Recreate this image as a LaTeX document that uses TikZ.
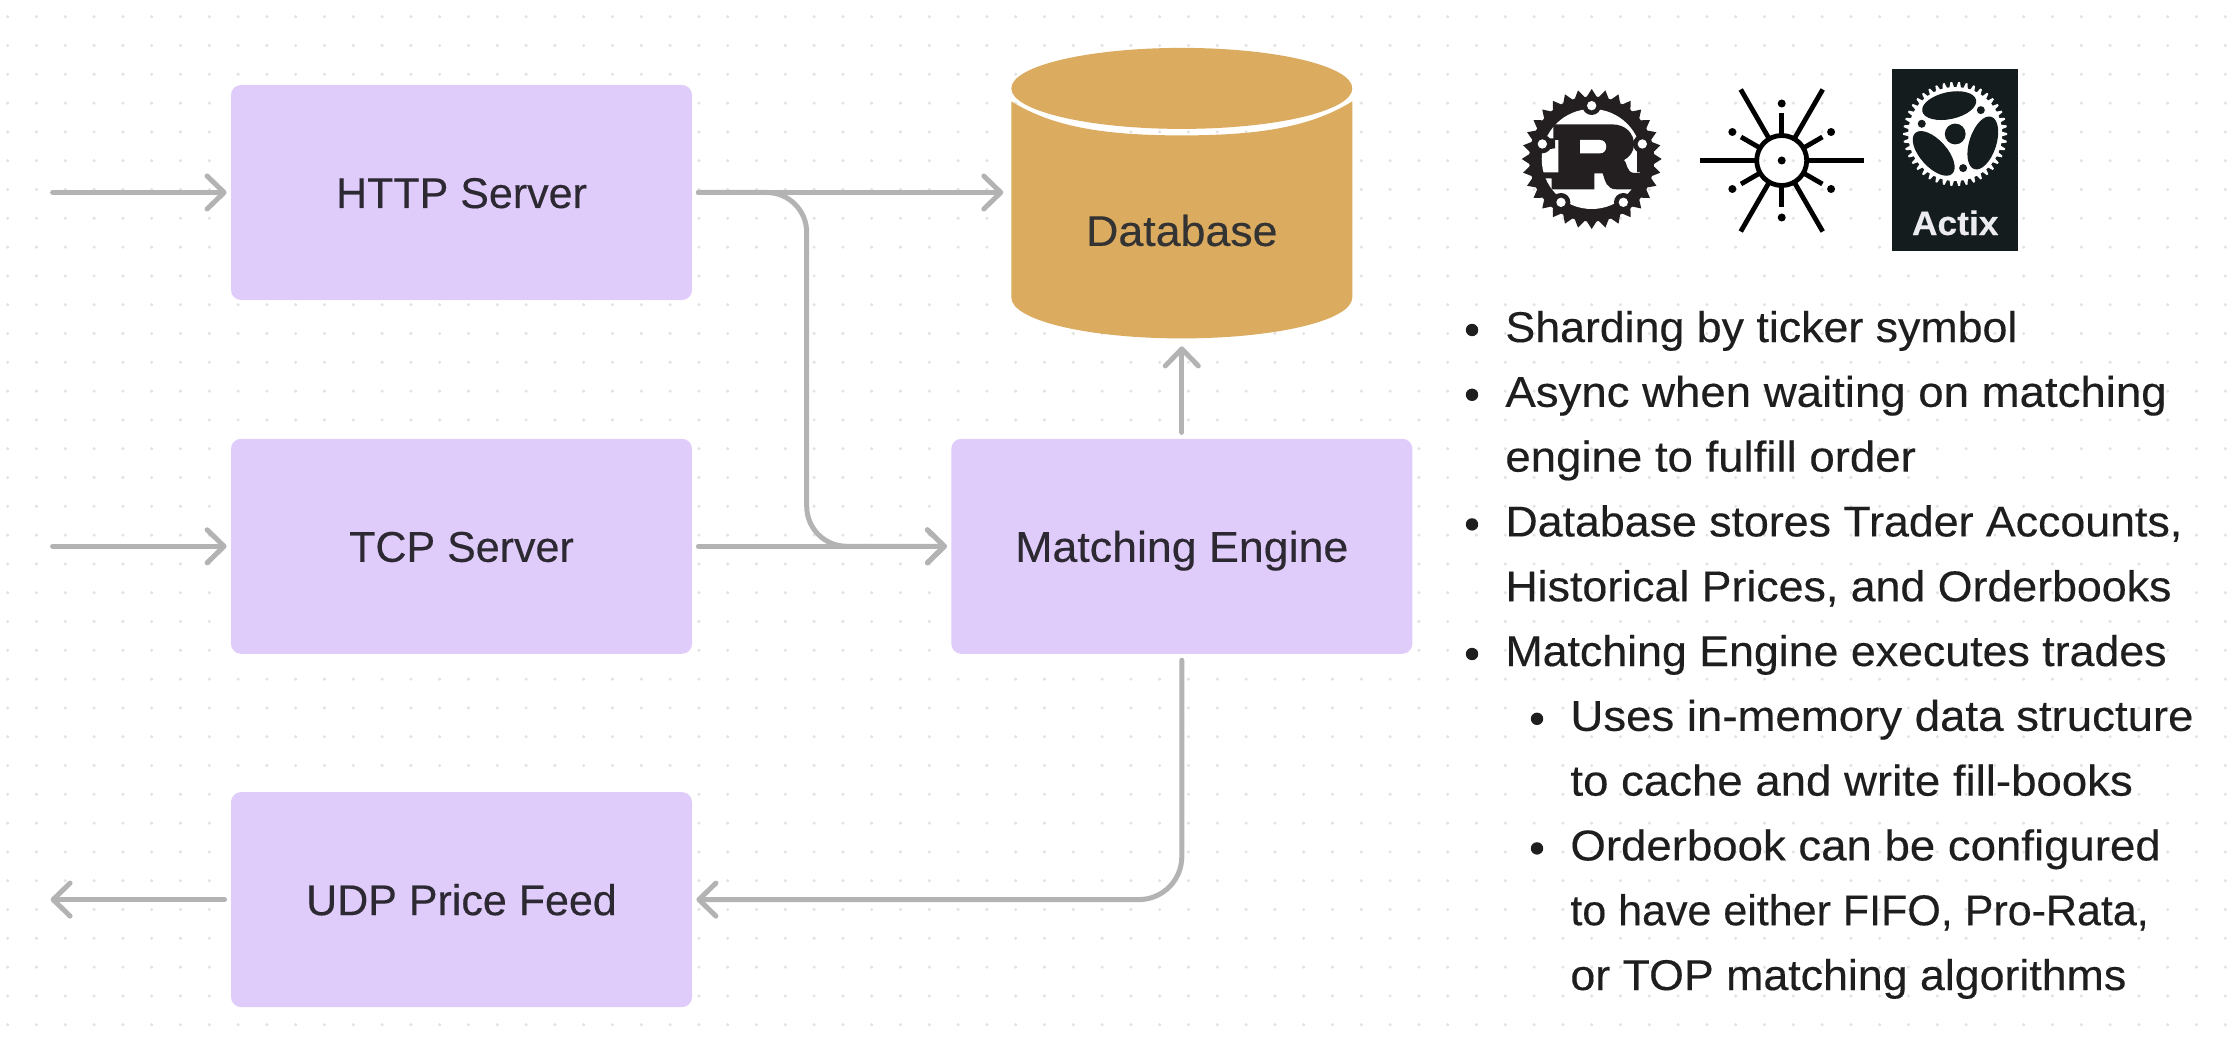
\documentclass[tikz,border=0pt]{standalone}
\usepackage{fontspec}
\setmainfont[Ligatures=NoCommon,FakeStretch=1.04,FakeBold=0.3]{Liberation Sans}
\newfontfamily\capsfam[Ligatures=NoCommon,FakeStretch=1.0,FakeBold=0.3]{Liberation Sans}
\newfontfamily\widefam[Ligatures=NoCommon,FakeStretch=1.06,FakeBold=0.3]{Liberation Sans}
\usepackage{tikz}
\usetikzlibrary{positioning,calc,arrows.meta}
\definecolor{griddot}{HTML}{E2E2E2}
\definecolor{boxpurple}{HTML}{E0CCFA}
\definecolor{boxink}{HTML}{2D2933}
\definecolor{dbgold}{HTML}{DBAB60}
\definecolor{dbink}{HTML}{333333}
\definecolor{linegray}{HTML}{B3B3B3}
\definecolor{listink}{HTML}{1E1E1E}
\definecolor{rustblack}{HTML}{231F20}
\definecolor{actixbg}{HTML}{141C1E}
\definecolor{actixink}{HTML}{ECECF0}
\newcommand\bodyfnt{\fontsize{21.5}{26}\selectfont}
\tikzset{
  box/.style={rectangle, rounded corners=5pt, fill=boxpurple, text=boxink, font=\bodyfnt,
    minimum width=230.5pt, minimum height=107.5pt, inner sep=0pt, text height=15.5pt, text depth=0pt},
  capsbox/.style={box, font=\capsfam\bodyfnt},
  dbshape/.style={rectangle, minimum width=170.5pt, minimum height=145pt, inner sep=0pt, outer sep=2pt},
  link/.style={draw=linegray, line width=2.5pt, line cap=round, shorten >=2pt, shorten <=3pt,
    -{Straight Barb[length=8.5pt, width=16.5pt, round]}},
  listline/.style={anchor=base west, inner sep=0pt, text=listink, font=\bodyfnt},
  wideline/.style={listline, font=\widefam\bodyfnt},
  capsline/.style={listline, font=\capsfam\bodyfnt},
  listdot/.style={circle, fill=listink, inner sep=0pt, minimum size=6.2pt},
}
\begin{document}
\begin{tikzpicture}[x=.5pt,y=-.5pt]
     \useasboundingbox (0,0) rectangle (2230,1048);
     \fill[white] (0,0) rectangle (2230,1048);

    %% dot grid
     \foreach \i in {0,...,77}
       \foreach \j in {0,...,35}
         \fill[griddot] (7.7+28.8*\i,16.7+28.8*\j) circle (1.7);

    %% boxes
     \node (http) [capsbox] at (461.5,192.5) {HTTP Server};
     \node (tcp) [capsbox, below=69pt of http] {TCP Server};
     \node (udp) [capsbox, below=68.75pt of tcp] {UDP Price Feed};
     \node (match) [box, right=129.25pt of tcp] {Matching Engine};
     \node (db) [dbshape, above=48pt of match] {};

    %% cylinder of the database
     \begin{scope}[shift={(db.center)}]
       \fill[dbgold] (-170.5,-92) .. controls (-130,-67) and (-80,-58) .. (0,-58)
          .. controls (80,-58) and (130,-67) .. (170.5,-92) -- (170.5,104)
          .. controls (170.5,127) and (94,145) .. (0,145)
          .. controls (-94,145) and (-170.5,127) .. (-170.5,104) -- cycle;
       \fill[dbgold] (0,-105) ellipse [x radius=170.5, y radius=40.5];
     \end{scope}
     \node (dbname) [box, fill=none, text=dbink, minimum width=0pt, minimum height=0pt] at ($(db.center)+(0,37)$) {Database};

    %% free ends
     \coordinate [left=92pt of http] (httpin);
     \coordinate [left=92pt of tcp] (tcpin);
     \coordinate [left=92pt of udp] (udpout);
     \coordinate (bend) at (806.7,400);

    %% connectors
     \draw[link] (httpin) -- (http);
     \draw[link] (tcpin) -- (tcp);
     \draw[link] (udp) -- (udpout);
     \draw[link] (http.east) -- (http.east -| db.west);
     \draw[link] (tcp) -- (match);
     \draw[link] (match) -- (db);
     \draw[link, rounded corners=20pt] (http.east) -- (http.east -| bend) -- (match.west -| bend) -- (match.west);
     \draw[link, rounded corners=21.5pt] (match.south) -- (match.south |- udp.east) -- (udp.east);

    %% rust logo
     \coordinate (rust) at (1591.7,159);
     \begin{scope}[shift={(rust)}]
       \fill[rustblack] (0,0) circle (62.5);
       \foreach \a in {0,11.25,...,349}
         \fill[rustblack] (\a-5.6:61) -- (\a:70) -- (\a+5.6:61) -- cycle;
       \fill[white] (0,0) circle (50);
       \begin{scope}[shift={(-81.7,-74)},scale=.3333]
         \fill[rustblack] (130,118) -- (305,118) .. controls (350,118) and (372,148) .. (372,178)
            .. controls (372,200) and (358,217) .. (342,225) .. controls (352,232) and (348,262) .. (372,264)
            -- (398,262) -- (368,313) -- (320,313) .. controls (290,313) and (286,290) .. (278,265)
            -- (253,265) -- (253,313) -- (125,313) -- (125,280) -- (95,280) -- (95,262) -- (145,262)
            -- (145,165) -- (130,165) -- cycle;
         \fill[rustblack] (382,195) -- (412,195) -- (412,262) -- (382,262) -- cycle;
         \fill[rustblack] (97,160) -- (135,160) -- (135,190) -- (97,195) -- cycle;
         \foreach \hx/\hy in {245/62,397/177,340/352,153/352,97/177}
           \fill[rustblack] (\hx,\hy) circle (28);
         \foreach \hx/\hy in {245/62,397/177,340/352,153/352,97/177}
           \fill[white] (\hx,\hy) circle (14);
         \fill[white] (210,165) -- (270,165) .. controls (295,165) and (295,205) .. (270,205) -- (210,205) -- cycle;
       \end{scope}
     \end{scope}

    %% sun logo
     \coordinate [right=95pt of rust, yshift=-.75pt] (sun);
     \begin{scope}[shift={(sun)}, line width=2.4pt]
       \foreach \a in {0,60,...,300}
         \draw (\a:25) -- (\a:82);
       \foreach \a in {30,90,...,330} {
         \draw (\a:25) -- (\a:47);
         \fill (\a:57) circle (4);
       }
       \draw (0,0) circle (25);
       \fill (0,0) circle (4);
     \end{scope}

    %% actix logo
     \coordinate [right=86.75pt of sun, yshift=13.25pt] (actix);
     \begin{scope}[shift={(actix)}]
       \fill[actixbg] (-63.5,-65) rectangle (62.5,117);
       \fill[white] (0,0) circle (47);
       \foreach \a in {0,8.571,...,359}
         \fill[white] (\a-3:46) -- (\a-1:52) -- (\a+1:52) -- (\a+3:46) -- cycle;
       \fill[actixbg] (0,0) circle (10.4);
       \begin{scope}[y=.5pt]
         \foreach \a in {102,222,342} {
           \fill[actixbg, shift={(\a:29)}, rotate=\a-90] (0,0) ellipse [x radius=27.5, y radius=13.5];
           \fill[actixbg] (\a-59:35) circle (4);
         }
       \end{scope}
     \end{scope}
     \node (actixname) [anchor=base, inner sep=0pt, text=actixink, font=\fontsize{17}{20}\selectfont\bfseries] at ($(actix)+(0,101)$) {Actix};

    %% list
     \node (l1) [listline] at (1505,342) {Sharding by ticker symbol};
     \node (l2) [below=32.4pt of l1.base west, wideline] {Async when waiting on matching};
     \node (l3) [below=32.4pt of l2.base west, wideline] {engine to fulfill order};
     \node (l4) [below=32.4pt of l3.base west, listline] {Database stores Trader Accounts,};
     \node (l5) [below=32.4pt of l4.base west, listline] {Historical Prices, and Orderbooks};
     \node (l6) [below=32.4pt of l5.base west, listline] {Matching Engine executes trades};
     \node (l7) [below=32.4pt of l6.base west, xshift=32.5pt, wideline] {Uses in-memory data structure};
     \node (l8) [below=32.4pt of l7.base west, wideline] {to cache and write fill-books};
     \node (l9) [below=32.4pt of l8.base west, wideline] {Orderbook can be configured};
     \node (l10) [below=32.4pt of l9.base west, capsline] {to have either FIFO, Pro-Rata,};
     \node (l11) [below=32.4pt of l10.base west, listline] {or TOP matching algorithms};

     \node (d1) [listdot] at ($(l1.base west)+(-33,-12)$) {};
     \node (d2) [listdot] at ($(l2.base west)+(-33,-12)$) {};
     \node (d4) [listdot] at ($(l4.base west)+(-33,-12)$) {};
     \node (d6) [listdot] at ($(l6.base west)+(-33,-12)$) {};
     \node (d7) [listdot] at ($(l7.base west)+(-33,-12)$) {};
     \node (d9) [listdot] at ($(l9.base west)+(-33,-12)$) {};
\end{tikzpicture}
\end{document}
